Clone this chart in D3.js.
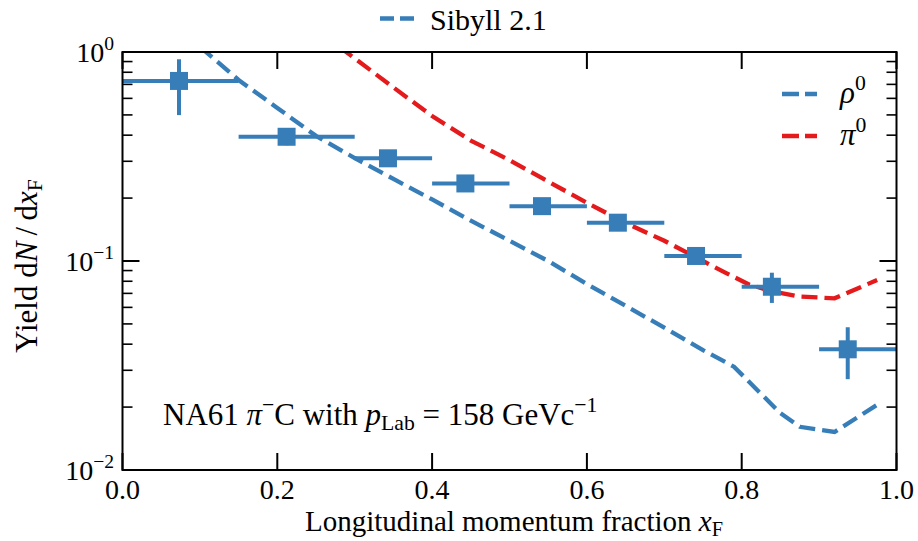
<!DOCTYPE html>
<html>
<head>
<meta charset="utf-8">
<script src="https://cdn.jsdelivr.net/npm/d3@7"></script>
<style>
  html, body { margin: 0; padding: 0; background: #ffffff; }
  svg { display: block; }
  text { font-family: "Liberation Serif", "DejaVu Serif", serif; fill: #000; }
</style>
</head>
<body>
<svg id="chart" width="918" height="541"></svg>
<script>
// NA61 measurement: bin centres, bin edges and yields with uncertainties
const dataX     = [0.073, 0.212, 0.343, 0.443, 0.542, 0.640, 0.741, 0.839, 0.937];
const dataXLow  = [0.00, 0.15, 0.30, 0.40, 0.50, 0.60, 0.70, 0.80, 0.90];
const dataXHigh = [0.15, 0.30, 0.40, 0.50, 0.60, 0.70, 0.80, 0.90, 1.00];
const dataY     = [0.727, 0.393, 0.310, 0.235, 0.183, 0.1525, 0.1057, 0.0753, 0.0378];
const dataYLow  = [0.499, 0.358, 0.283, 0.222, 0.174, 0.146, 0.101, 0.063, 0.0272];
const dataYHigh = [0.923, 0.428, 0.337, 0.248, 0.192, 0.159, 0.110, 0.0879, 0.0482];

// Sibyll 2.1 predictions
const rhoX = [0.10, 0.15, 0.20, 0.25, 0.30, 0.35, 0.40, 0.45, 0.50, 0.55, 0.60, 0.65, 0.70, 0.75, 0.79, 0.85, 0.875, 0.92, 0.975];
const rhoY = [1.06, 0.735, 0.54, 0.397, 0.311, 0.247, 0.197, 0.156, 0.125, 0.100, 0.0776, 0.061, 0.048, 0.0375, 0.0312, 0.0187, 0.0161, 0.0152, 0.0205];
const piX  = [0.28, 0.30, 0.35, 0.40, 0.45, 0.50, 0.55, 0.60, 0.65, 0.70, 0.75, 0.78, 0.81, 0.84, 0.875, 0.92, 0.975];
const piY  = [1.06, 0.932, 0.677, 0.494, 0.377, 0.304, 0.240, 0.190, 0.152, 0.125, 0.100, 0.0875, 0.0770, 0.0715, 0.0676, 0.0663, 0.0811];

// Axis ticks
const xTicks = [0.0, 0.2, 0.4, 0.6, 0.8, 1.0];
const xTickLabels = ["0.0", "0.2", "0.4", "0.6", "0.8", "1.0"];
const yMajor = [1, 0.1, 0.01];
const yMajorExp = ["0", "\u22121", "\u22122"];

const blue = "#377eb8";
const red = "#e41a1c";

const svg = d3.select("#chart");
const L = 122.5, R = 896.5, T = 52, B = 470;

const x = d3.scaleLinear().domain([0, 1]).range([L, R]);
const y = d3.scaleLog().domain([0.01, 1]).range([B, T]);

// Writes a run of text pieces (italic / superscript / subscript) into one <text>
function rich(sel, parts, size) {
  let shift = 0;
  parts.forEach(p => {
    let target = 0, fs = size;
    if (p.sup) { target = -0.42 * size; fs = 0.7 * size; }
    if (p.sub) { target = 0.16 * size; fs = 0.7 * size; }
    const ts = sel.append("tspan")
      .attr("font-size", fs)
      .attr("dy", target - shift)
      .text(p.t);
    if (p.i) ts.attr("font-style", "italic");
    shift = target;
  });
}

svg.append("defs").append("clipPath").attr("id", "plotclip")
  .append("rect").attr("x", L).attr("y", T).attr("width", R - L).attr("height", B - T);

// model curves
const line = (xs, ys) => d3.line()(xs.map((v, i) => [x(v), y(ys[i])]));
const curves = svg.append("g").attr("clip-path", "url(#plotclip)");
curves.append("path").attr("d", line(rhoX, rhoY))
  .attr("fill", "none").attr("stroke", blue).attr("stroke-width", 4.3)
  .attr("stroke-dasharray", "16,7");
curves.append("path").attr("d", line(piX, piY))
  .attr("fill", "none").attr("stroke", red).attr("stroke-width", 4.3)
  .attr("stroke-dasharray", "16,7");

// data points with error bars
const pts = svg.append("g");
dataX.forEach((xv, i) => {
  const cx = x(xv), cy = y(dataY[i]);
  pts.append("line").attr("x1", x(dataXLow[i])).attr("x2", x(dataXHigh[i]))
    .attr("y1", cy).attr("y2", cy).attr("stroke", blue).attr("stroke-width", 4);
  pts.append("line").attr("x1", cx).attr("x2", cx)
    .attr("y1", y(dataYLow[i])).attr("y2", y(dataYHigh[i]))
    .attr("stroke", blue).attr("stroke-width", 4);
  pts.append("rect").attr("x", cx - 9).attr("y", cy - 9)
    .attr("width", 18).attr("height", 18).attr("fill", blue);
});

// frame and ticks
const axes = svg.append("g");
axes.append("rect").attr("x", L).attr("y", T).attr("width", R - L).attr("height", B - T)
  .attr("fill", "none").attr("stroke", "#000").attr("stroke-width", 2);

xTicks.forEach((t, i) => {
  const px = x(t);
  axes.append("line").attr("x1", px).attr("x2", px).attr("y1", B).attr("y2", B - 17)
    .attr("stroke", "#000").attr("stroke-width", 2);
  axes.append("line").attr("x1", px).attr("x2", px).attr("y1", T).attr("y2", T + 17)
    .attr("stroke", "#000").attr("stroke-width", 2);
  axes.append("text").attr("x", px).attr("y", 499).attr("text-anchor", "middle")
    .attr("font-size", 28).text(xTickLabels[i]);
});

const yMinor = [];
[0.01, 0.1].forEach(d => { for (let k = 2; k <= 9; k++) yMinor.push(d * k); });
yMinor.forEach(v => {
  const py = y(v);
  axes.append("line").attr("x1", L).attr("x2", L + 10).attr("y1", py).attr("y2", py)
    .attr("stroke", "#000").attr("stroke-width", 1.6);
  axes.append("line").attr("x1", R).attr("x2", R - 10).attr("y1", py).attr("y2", py)
    .attr("stroke", "#000").attr("stroke-width", 1.6);
});
yMajor.forEach((v, i) => {
  const py = y(v);
  axes.append("line").attr("x1", L).attr("x2", L + 17).attr("y1", py).attr("y2", py)
    .attr("stroke", "#000").attr("stroke-width", 2);
  axes.append("line").attr("x1", R).attr("x2", R - 17).attr("y1", py).attr("y2", py)
    .attr("stroke", "#000").attr("stroke-width", 2);
  const t = axes.append("text").attr("x", 114).attr("y", py + 10).attr("text-anchor", "end");
  rich(t, [{ t: "10" }, { t: yMajorExp[i], sup: true }], 28);
});

// axis titles
const xl = svg.append("text").attr("x", 514).attr("y", 531).attr("text-anchor", "middle");
rich(xl, [{ t: "Longitudinal momentum fraction " }, { t: "x", i: true }, { t: "F", sub: true }], 29);

const yl = svg.append("text").attr("transform", "translate(37," + ((T + B) / 2 + 5) + ") rotate(-90)")
  .attr("text-anchor", "middle");
rich(yl, [{ t: "Yield d" }, { t: "N", i: true }, { t: "\u2009/\u2009d" }, { t: "x", i: true }, { t: "F", sub: true }], 31);

// annotation
const an = svg.append("text").attr("x", 163).attr("y", 425);
rich(an, [{ t: "NA61 " }, { t: "\u03c0", i: true }, { t: "\u2212", sup: true }, { t: "C with " },
          { t: "p", i: true }, { t: "Lab", sub: true }, { t: " = 158 GeVc" }, { t: "\u22121", sup: true }], 31);

// top legend
const lg = svg.append("g");
lg.append("line").attr("x1", 380).attr("x2", 414).attr("y1", 18.5).attr("y2", 18.5)
  .attr("stroke", blue).attr("stroke-width", 4.3).attr("stroke-dasharray", "14,6");
lg.append("text").attr("x", 430).attr("y", 30).attr("font-size", 30).text("Sibyll 2.1");

// species legend
const sp = [{ c: blue, s: "\u03c1", yy: 94 }, { c: red, s: "\u03c0", yy: 136 }];
sp.forEach(d => {
  lg.append("line").attr("x1", 782).attr("x2", 817).attr("y1", d.yy).attr("y2", d.yy)
    .attr("stroke", d.c).attr("stroke-width", 4.3).attr("stroke-dasharray", "17,6");
  const t = lg.append("text").attr("x", 840).attr("y", d.yy + 9);
  rich(t, [{ t: d.s, i: true }, { t: "0", sup: true }], 31);
});
</script>
</body>
</html>
